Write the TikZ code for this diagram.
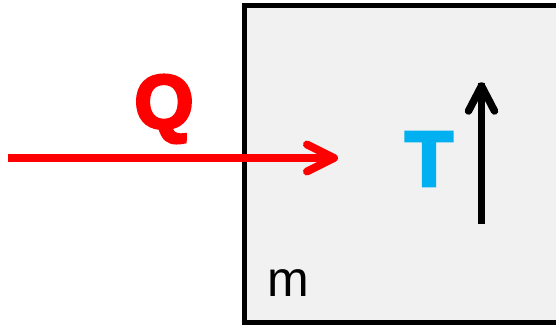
\documentclass[tikz,border=0pt]{standalone}
\usepackage{fontspec}
\setmainfont{Liberation Sans}
\newfontfamily\heavyfont[FakeBold=4]{Liberation Sans Bold}
\definecolor{boxgray}{RGB}{241,241,241}
\definecolor{qred}{RGB}{255,0,0}
\definecolor{tcyan}{RGB}{0,176,240}
\begin{document}
\begin{tikzpicture}[x=1pt,y=-1pt,
  sysbox/.style={draw=black,line width=5pt,fill=boxgray},
  heatarrow/.style={draw=qred,line width=8pt,line cap=round,line join=round},
  temparrow/.style={draw=black,line width=7.5pt,line cap=round,line join=round},
  lbl/.style={inner sep=0pt,anchor=center}]
\useasboundingbox (0,0) rectangle (556,324);
\node[sysbox,minimum width=320pt,minimum height=317pt,inner sep=0pt,outer sep=0pt,anchor=north west] (box) at (244.5,5.5) {};
\coordinate (qstart) at (8,158);
\coordinate (qend) at (334,158);
\draw[heatarrow,line cap=butt] (qstart) -- ([xshift=-3pt]qend);
\draw[heatarrow] ([shift={(-27,-13.5)}]qend) -- (qend) -- ([shift={(-27,13.5)}]qend);
\coordinate (tstart) at (481.5,224);
\coordinate (tend) at (481.5,86);
\draw[temparrow,line cap=butt] (tstart) -- ([yshift=3pt]tend);
\draw[temparrow] ([shift={(-13,25)}]tend) -- (tend) -- ([shift={(13,25)}]tend);
\node[lbl,text=qred] (Q) at (164,109) {\fontsize{76}{76}\heavyfont Q};
\node[lbl,text=tcyan] (T) at (429,159) {\fontsize{78}{78}\heavyfont T};
\node[lbl,text=black] (m) at (288,283) {\fontsize{50}{50}\selectfont m};
\end{tikzpicture}
\end{document}
